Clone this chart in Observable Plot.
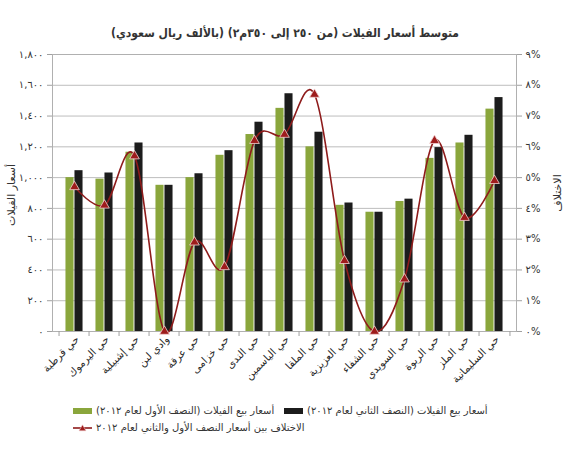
<!DOCTYPE html>
<html>
<head>
<meta charset="utf-8">
<script src="https://cdn.jsdelivr.net/npm/d3@7"></script>
<script src="https://cdn.jsdelivr.net/npm/@observablehq/plot@0.6"></script>
<style>
  body { margin: 0; background: #fff; font-family: "DejaVu Sans", sans-serif; }
  #wrap { width: 570px; position: relative; }
  #title { height: 44px; box-sizing: border-box; padding-top: 24px; line-height: 18px; text-align: center; font-family: "DejaVu Sans Condensed", "DejaVu Sans", sans-serif; font-size: 12px; font-weight: bold; color: #333; direction: rtl; }
  #chart { position: relative; height: 356px; }
  .ytitle { position: absolute; font-size: 11px; color: #333; white-space: nowrap; transform: translate(-50%, -50%) rotate(-90deg); direction: rtl; }
  #legend { position: relative; height: 57px; font-size: 10px; color: #333; }
  .item { position: absolute; display: flex; align-items: center; white-space: nowrap; }
  .item span { direction: rtl; unicode-bidi: embed; margin-left: 4px; }
  .sw { width: 19px; height: 6px; display: inline-block; }
</style>
</head>
<body>
<div id="wrap">
  <div id="title">متوسط أسعار الفيلات (من ٢٥٠ إلى ٣٥٠م٢) (بالألف ريال سعودي)</div>
  <div id="chart"></div>
  <div id="legend"></div>
</div>
<script>
// ---- data ----
const categories = ["حي قرطبة","حي اليرموك","حي إشبيلية","وادي لبن","حي عرقة","حي خزامى","حي الندى","حي الياسمين","حي الملقا","حي العزيزية","حي الشفاء","حي السويدي","حي الربوة","حي الملز","حي السليمانية"];
const firstHalf  = [1000, 990, 1165, 950, 1000, 1145, 1280, 1450, 1200, 820, 775, 845, 1125, 1225, 1445];
const secondHalf = [1045, 1030, 1225, 950, 1025, 1175, 1360, 1545, 1295, 835, 775, 860, 1195, 1275, 1520];
const diffPct    = [4.7, 4.1, 5.7, 0, 2.9, 2.1, 6.2, 6.4, 7.7, 2.3, 0, 1.7, 6.2, 3.7, 4.9];
const leftTicks = [0, 200, 400, 600, 800, 1000, 1200, 1400, 1600, 1800];
const leftTickLabels = ["٠","٢٠٠","٤٠٠","٦٠٠","٨٠٠","١,٠٠٠","١,٢٠٠","١,٤٠٠","١,٦٠٠","١,٨٠٠"];
const rightTicks = [0, 1, 2, 3, 4, 5, 6, 7, 8, 9];
const rightTickLabels = ["٠%","١%","٢%","٣%","٤%","٥%","٦%","٧%","٨%","٩%"];
const seriesNames = ["أسعار بيع الفيلات (النصف الأول لعام ٢٠١٢)", "أسعار بيع الفيلات (النصف الثاني لعام ٢٠١٢)", "الاختلاف بين أسعار النصف الأول والثاني لعام ٢٠١٢"];
const leftTitle = "أسعار الفيلات";
const rightTitle = "الاختلاف";

// ---- build ----
const colors = {h1: "#8aa63c", h2: "#1c1c1c", line: "#8e1b1b"};
const width = 570, height = 356;
const margin = {top: 10, right: 54, bottom: 69, left: 52};
const step = (width - margin.left - margin.right) / categories.length;
const barW = 9;
const outer = (step - 2 * barW) / 2;
const ratio = leftTicks[leftTicks.length - 1] / rightTicks[rightTicks.length - 1];

const rows = categories.map((c, i) => ({cat: c, h1: firstHalf[i], h2: secondHalf[i], pct: diffPct[i]}));

const plot = Plot.plot({
  width, height,
  marginTop: margin.top, marginRight: margin.right, marginBottom: margin.bottom, marginLeft: margin.left,
  style: {fontFamily: "DejaVu Sans, sans-serif", fontSize: "10px", color: "#333", background: "#fff"},
  x: {type: "band", domain: categories, padding: 0, label: null},
  y: {domain: [0, leftTicks[leftTicks.length - 1]], label: null},
  marks: [
    Plot.gridY(leftTicks, {stroke: "#bdbdbd", strokeOpacity: 1}),
    Plot.barY(rows, {x: "cat", y: "h1", fill: colors.h1, insetLeft: outer, insetRight: outer + barW}),
    Plot.barY(rows, {x: "cat", y: "h2", fill: colors.h2, insetLeft: outer + barW, insetRight: outer}),
    Plot.frame({stroke: "#b0b0b0"}),
    Plot.line(rows, {x: "cat", y: d => d.pct * ratio, stroke: colors.line, strokeWidth: 1.6, curve: "cardinal", tension: 0}),
    Plot.dot(rows, {x: "cat", y: d => d.pct * ratio, symbol: "triangle", r: 3.6, fill: "#9e1c1c", stroke: "#f3d0d0", strokeWidth: 0.8}),
    Plot.axisY(leftTicks, {anchor: "left", tickSize: 5, tickPadding: 4, stroke: "#a0a0a0",
      tickFormat: d => leftTickLabels[leftTicks.indexOf(d)], label: null}),
    Plot.axisY(rightTicks.map(t => t * ratio), {anchor: "right", tickSize: 5, tickPadding: 4, stroke: "#a0a0a0",
      tickFormat: d => rightTickLabels[rightTicks.indexOf(d / ratio)], label: null}),
    Plot.axisX(categories, {anchor: "bottom", tickSize: 5, stroke: "#a0a0a0", dx: -step / 2, tickFormat: () => "", label: null}),
    Plot.axisX(categories.slice(-1), {anchor: "bottom", tickSize: 5, stroke: "#a0a0a0", dx: step / 2, tickFormat: () => "", label: null}),
    Plot.axisX(categories, {anchor: "bottom", tickSize: 0, tickPadding: 6, tickRotate: -45, dx: 3, fontSize: 10.5, fill: "#2a2a2a", label: null})
  ]
});
const chart = document.getElementById("chart");
chart.appendChild(plot);

const lt = document.createElement("div");
lt.className = "ytitle"; lt.textContent = leftTitle;
lt.style.left = "11px"; lt.style.top = (195 - 44) + "px";
chart.appendChild(lt);
const rt = document.createElement("div");
rt.className = "ytitle"; rt.textContent = rightTitle;
rt.style.left = "557px"; rt.style.top = (193 - 44) + "px";
chart.appendChild(rt);

// ---- legend ----
const legend = document.getElementById("legend");
function addItem(left, top, swatchHtml, text) {
  const d = document.createElement("div");
  d.className = "item";
  d.style.left = left + "px"; d.style.top = top + "px";
  d.innerHTML = swatchHtml;
  const s = document.createElement("span"); s.textContent = text;
  d.appendChild(s);
  legend.appendChild(d);
}
addItem(73, 5, `<i class="sw" style="background:${colors.h1}"></i>`, seriesNames[0]);
addItem(284, 5, `<i class="sw" style="background:${colors.h2}"></i>`, seriesNames[1]);
addItem(73, 22, `<svg width="19" height="10"><line x1="0" y1="5" x2="19" y2="5" stroke="${colors.line}" stroke-width="1.6"/><path d="M9.5,1.8L13,7.8L6,7.8Z" fill="#9e1c1c" stroke="#f3d0d0" stroke-width="0.6"/></svg>`, seriesNames[2]);
</script>
</body>
</html>
